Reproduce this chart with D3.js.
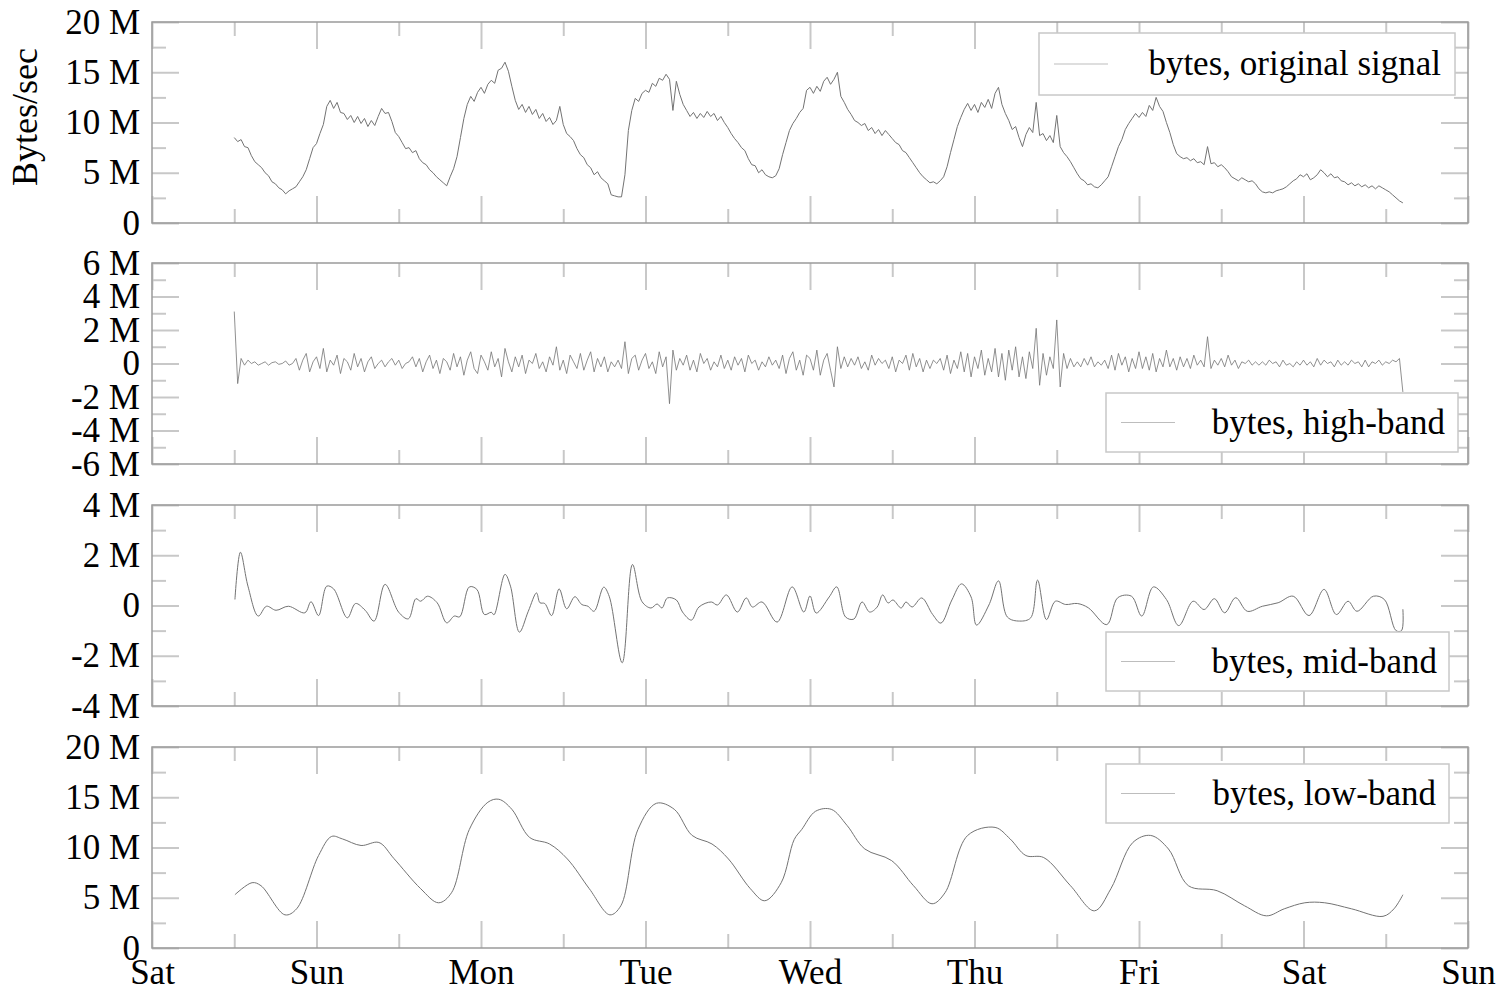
<!DOCTYPE html>
<html>
<head>
<meta charset="utf-8">
<script src="https://cdn.jsdelivr.net/npm/d3@7"></script>
<style>
  body { margin: 0; background: #fff; }
  svg { display: block; }
</style>
</head>
<body>
<div id="chart"></div>
<script>
// Wavelet bands of bytes/sec over one week (Sat -> Sun)

// x axis tick labels, one per day boundary (hours 0, 24, ... 192)
const dayLabels = ["Sat", "Sun", "Mon", "Tue", "Wed", "Thu", "Fri", "Sat", "Sun"];

// noisy series are sampled every half hour, starting at Sat 12:00 (hour 12)
const sampleStart = 12, sampleStep = 0.5;

// original signal, millions of bytes/sec
const originalSignal = [
  8.5, 8.1, 8.3, 7.6, 7.5, 6.7, 6.1, 5.8, 5.5, 5.0, 4.7, 4.1,
  3.9, 3.5, 3.3, 2.9, 3.2, 3.4, 3.6, 4.1, 4.6, 5.3, 6.4, 7.5,
  7.9, 8.9, 9.8, 11.6, 12.2, 11.4, 12.0, 11.0, 10.9, 10.3, 10.7, 10.0,
  10.6, 9.9, 10.4, 9.6, 10.2, 9.7, 10.6, 11.4, 10.9, 11.0, 10.1, 9.0,
  8.6, 8.0, 7.4, 7.5, 7.0, 7.2, 6.4, 6.0, 5.8, 5.3, 5.0, 4.6,
  4.3, 4.0, 3.7, 4.6, 5.4, 6.6, 8.5, 10.4, 11.8, 12.6, 12.1, 13.0,
  13.5, 12.9, 13.8, 14.2, 13.9, 15.2, 15.4, 16.0, 15.1, 13.6, 12.2, 11.3,
  11.8, 11.0, 11.6, 10.8, 11.3, 10.4, 10.9, 10.1, 10.5, 9.8, 10.2, 11.6,
  9.8, 8.9, 8.6, 8.2, 7.4, 6.8, 6.5, 5.8, 5.5, 4.8, 5.1, 4.5,
  4.2, 3.9, 2.8, 2.7, 2.6, 2.6, 4.8, 9.2, 11.2, 12.4, 12.1, 12.9,
  13.2, 13.0, 13.9, 13.6, 14.4, 14.2, 14.8, 14.3, 11.2, 14.1, 12.8, 11.8,
  11.2, 10.6, 11.0, 10.4, 10.9, 10.5, 11.1, 10.6, 10.9, 10.2, 10.6, 10.0,
  9.5, 8.9, 8.4, 8.0, 7.5, 7.2, 6.4, 5.8, 5.7, 5.0, 5.3, 4.8,
  4.6, 4.5, 4.7, 5.4, 6.8, 8.0, 9.2, 9.9, 10.4, 11.0, 11.4, 13.2,
  13.5, 12.9, 13.6, 13.1, 14.1, 14.5, 13.8, 14.3, 15.0, 12.6, 12.0, 11.3,
  10.8, 10.2, 10.0, 9.7, 9.9, 9.2, 9.5, 8.9, 9.3, 8.7, 9.2, 8.8,
  8.4, 8.0, 7.8, 7.2, 7.0, 6.5, 6.0, 5.5, 5.0, 4.6, 4.3, 4.0,
  4.1, 3.9, 4.2, 4.6, 5.6, 7.0, 8.3, 9.6, 10.5, 11.3, 11.9, 11.2,
  11.8, 11.0, 12.0, 11.5, 12.3, 11.4, 12.9, 13.5, 11.8, 10.9, 10.2, 9.3,
  9.6, 8.5, 7.6, 8.8, 9.5, 9.0, 12.0, 8.7, 8.9, 8.2, 8.7, 8.0,
  10.7, 7.6, 7.0, 6.6, 6.1, 5.5, 4.9, 4.4, 4.2, 3.8, 3.9, 3.6,
  3.5, 3.8, 4.2, 4.6, 5.6, 6.6, 7.6, 8.3, 9.3, 9.9, 10.4, 10.9,
  10.5, 11.0, 10.6, 11.7, 11.2, 12.5, 11.6, 11.1, 10.0, 9.0, 7.8, 6.9,
  6.6, 6.4, 6.5, 6.2, 6.4, 6.0, 6.1, 5.8, 7.6, 5.9, 6.0, 5.6,
  5.8, 5.5, 5.1, 4.6, 4.4, 4.2, 4.5, 4.3, 4.1, 4.2, 3.9, 3.4,
  3.1, 3.0, 3.1, 3.0, 3.2, 3.3, 3.4, 3.6, 3.9, 4.2, 4.4, 4.8,
  4.6, 4.9, 4.3, 4.5, 4.8, 5.3, 5.0, 4.6, 4.9, 4.5, 4.6, 4.2,
  4.1, 3.8, 4.0, 3.7, 3.9, 3.6, 3.8, 3.5, 3.7, 3.4, 3.7, 3.5,
  3.3, 3.1, 2.8, 2.5, 2.2, 2.0
];

// high-band component, millions of bytes/sec
const highBand = [
  3.1, -1.2, 0.3, -0.1, 0.2, 0.0, 0.1, -0.1, 0.0, 0.1, -0.1, 0.05,
  0.1, -0.05, 0.0, 0.15, -0.1, 0.0, 0.3, -0.4, 0.2, 0.6, -0.5, 0.1,
  0.4, -0.3, 0.9, -0.5, 0.2, -0.1, 0.5, -0.6, 0.3, 0.1, -0.4, 0.6,
  -0.2, 0.3, -0.5, 0.1, 0.4, -0.3, 0.0, 0.2, -0.2, 0.1, 0.3, -0.1,
  0.2, -0.3, 0.0, 0.1, 0.4, -0.2, 0.3, -0.5, 0.1, 0.5, -0.3, 0.2,
  -0.6, 0.3, 0.1, -0.4, 0.6, -0.2, 0.4, -0.7, 0.2, 0.7, -0.3, -0.6,
  0.5, 0.1, -0.4, 0.7, -0.2, 0.3, -0.8, 0.9, 0.1, -0.5, 0.4, -0.2,
  0.5, -0.6, 0.2, 0.0, 0.6, -0.3, 0.1, -0.5, 0.4, -0.1, 1.0, -0.4,
  0.2, -0.6, 0.5, 0.1, -0.3, 0.6, -0.4, 0.2, 0.7, -0.5, 0.3, -0.2,
  0.4, -0.5, 0.1, -0.2, 0.2, -0.3, 1.3, -0.6, 0.3, 0.5, -0.4, 0.2,
  0.6, -0.3, 0.1, -0.6, 0.7, -0.2, 0.4, -2.4, 0.8, -0.4, 0.3, -0.1,
  0.5, -0.4, 0.2, -0.5, 0.6, 0.0, 0.3, -0.4, 0.1, -0.2, 0.5, -0.3,
  0.2, -0.4, 0.4, -0.1, 0.3, -0.5, 0.5, 0.0, 0.2, -0.4, 0.1, -0.2,
  0.4, -0.1, 0.2, -0.3, 0.5, -0.6, 0.3, 0.7, -0.4, 0.2, -0.7, 0.5,
  0.3, -0.4, 0.8, -0.7, 0.2, 0.6, -0.4, -1.4, 1.0, -0.3, 0.4, -0.2,
  0.3, -0.1, 0.4, -0.3, 0.1, -0.4, 0.5, -0.1, 0.3, 0.0, 0.2, -0.3,
  0.4, -0.5, 0.2, 0.0, 0.5, -0.4, 0.6, -0.2, 0.3, -0.5, 0.2, -0.3,
  0.2, 0.0, 0.3, -0.4, 0.5, -0.6, 0.2, -0.3, 0.7, -0.5, 0.6, -0.8,
  0.4, -0.3, 0.8, -0.7, 0.3, -0.5, 0.9, -0.8, 0.6, -1.0, 0.8, -0.4,
  1.0, -0.8, 0.4, -0.9, 0.7, -0.3, 2.1, -1.3, 0.6, -0.7, 0.4, -0.3,
  2.6, -1.4, 0.6, -0.3, 0.3, -0.2, 0.1, -0.2, 0.3, -0.1, 0.4, -0.2,
  0.1, -0.1, 0.2, -0.3, 0.5, -0.4, 0.6, -0.1, 0.4, -0.5, 0.3, -0.3,
  0.7, -0.3, 0.4, -0.4, 0.6, -0.5, 0.3, -0.2, 0.8, -0.2, 0.3, -0.4,
  0.4, -0.2, 0.3, -0.3, 0.5, -0.1, 0.2, -0.2, 1.6, -0.3, 0.2, -0.1,
  0.3, -0.2, 0.5, -0.1, 0.2, -0.3, 0.1, 0.0, 0.2, -0.1, 0.1, -0.1,
  0.1, -0.1, 0.2, 0.0, 0.1, -0.2, 0.2, -0.1, 0.0, -0.2, 0.1, -0.1,
  0.2, -0.1, 0.1, -0.2, 0.3, -0.1, 0.2, 0.0, 0.1, -0.2, 0.2, -0.1,
  0.1, -0.1, 0.2, 0.0, 0.1, -0.2, 0.2, -0.2, 0.1, 0.0, 0.2, -0.1,
  0.1, 0.0, 0.2, 0.1, 0.3, -1.7
];

// mid-band component: [hour, millions of bytes/sec] at turning points
const midBand = [
  [12.1, 0.24], [12.9, 2.12], [14.0, 0.77], [15.5, -0.42], [16.7, -0.03], [18.1, -0.19],
  [19.9, -0.03], [22.3, -0.29], [23.2, 0.15], [24.3, -0.4], [25.5, 0.77], [26.5, 0.66],
  [28.5, -0.49], [29.7, 0.08], [31.1, -0.19], [32.4, -0.62], [34.0, 0.84], [36.0, -0.27],
  [37.4, -0.53], [38.5, 0.27], [39.2, 0.17], [40.2, 0.37], [41.6, 0.11], [43.0, -0.69],
  [44.1, -0.42], [44.9, -0.45], [46.3, 0.74], [47.4, 0.64], [48.5, -0.36], [49.5, -0.27],
  [49.9, -0.37], [51.5, 1.24], [52.3, 0.77], [53.6, -1.06], [54.9, -0.23], [56.1, 0.5],
  [56.6, 0.11], [57.3, 0.08], [58.3, -0.4], [59.4, 0.66], [60.5, -0.13], [61.7, 0.35],
  [62.7, 0.04], [63.6, -0.03], [64.5, -0.23], [65.9, 0.73], [66.7, 0.37], [68.6, -2.28],
  [70.1, 1.63], [71.5, 0.15], [72.8, -0.1], [73.7, 0.06], [74.4, -0.1], [75.2, 0.3],
  [76.5, 0.22], [77.4, -0.26], [78.7, -0.58], [79.8, -0.06], [81.6, 0.14], [82.5, 0.02],
  [83.8, 0.42], [85.4, -0.26], [86.7, 0.3], [87.6, -0.06], [89.0, 0.14], [91.2, -0.66],
  [93.4, 0.74], [95.1, -0.26], [96.0, 0.38], [96.9, -0.3], [98.8, 0.34], [99.9, 0.74],
  [101.2, -0.46], [102.4, -0.54], [103.6, 0.14], [104.7, -0.26], [105.8, -0.06], [106.6, 0.42],
  [107.4, 0.1], [108.1, 0.22], [109.3, -0.1], [110.0, 0.14], [110.9, -0.06], [112.3, 0.3],
  [113.9, -0.36], [115.1, -0.7], [116.7, 0.22], [118.1, 0.86], [119.5, 0.34], [120.3, -0.78],
  [122.1, 0.02], [123.5, 0.98], [124.8, -0.46], [126.6, -0.62], [128.2, -0.49], [129.2, 1.01],
  [130.5, -0.56], [131.8, 0.17], [133.3, 0.04], [135.0, 0.08], [136.6, -0.09], [139.3, -0.76],
  [140.9, 0.31], [142.9, 0.37], [144.4, -0.42], [146.1, 0.74], [148.0, 0.24], [149.8, -0.8],
  [151.9, 0.17], [153.5, -0.16], [155.0, 0.27], [156.5, -0.29], [158.1, 0.31], [159.8, -0.23],
  [162.0, -0.03], [164.3, 0.11], [166.5, 0.37], [168.8, -0.4], [171.0, 0.64], [172.8, -0.36],
  [174.5, 0.17], [175.8, -0.23], [178.2, 0.37], [179.8, 0.24], [181.5, -1.0], [182.3, -1.0],
  [182.5, -0.15]
];

// low-band component: [hour, millions of bytes/sec]
const lowBand = [
  [12.1, 5.3], [14.6, 6.5], [15.9, 6.2], [19.4, 3.3], [21.1, 3.9], [24.3, 9.2],
  [26.2, 11.1], [27.8, 10.85], [30.5, 10.2], [33.1, 10.5], [35.3, 8.9], [39.2, 5.9],
  [41.8, 4.5], [43.7, 5.5], [46.3, 11.8], [49.0, 14.5], [50.6, 14.8], [52.5, 13.8],
  [55.1, 11.0], [58.0, 10.35], [60.6, 8.86], [63.8, 5.9], [66.8, 3.3], [68.4, 4.2],
  [70.9, 11.8], [73.6, 14.4], [76.2, 13.8], [78.8, 11.2], [81.7, 10.35], [84.1, 8.86],
  [87.3, 5.9], [89.4, 4.7], [91.8, 6.5], [93.7, 10.8], [94.8, 11.8], [96.8, 13.6],
  [99.1, 13.8], [101.4, 12.2], [104.0, 9.85], [107.9, 8.7], [111.1, 6.2], [113.8, 4.4],
  [115.7, 5.5], [119.0, 11.2], [123.0, 12.0], [125.2, 10.85], [127.5, 9.2], [130.1, 9.0],
  [134.0, 6.2], [137.5, 3.7], [139.9, 5.9], [143.1, 10.5], [145.7, 11.2], [148.3, 9.85],
  [151.2, 6.2], [155.4, 5.7], [159.4, 4.2], [162.6, 3.2], [165.2, 3.9], [168.2, 4.5],
  [171.1, 4.5], [175.0, 3.9], [179.6, 3.15], [181.2, 3.9], [182.5, 5.3]
];

// layout
const width = 1503,
    height = 993,
    plotLeft = 152,
    plotRight = 1468,
    panelHeight = 201,
    majorTick = 27,
    minorTick = 14;

const fontFamily = "'Liberation Serif', 'Times New Roman', serif";

// panel table built from the series above
const panels = [
  { top: 22, min: 0, max: 20, step: 5, legend: "bytes, original signal",
    data: originalSignal.map((v, i) => [sampleStart + i * sampleStep, v]), curve: d3.curveLinear, sw: 1,
    box: { x: 1039, y: 11, w: 416, h: 62 }, textRight: 1441 },
  { top: 263, min: -6, max: 6, step: 2, legend: "bytes, high-band",
    data: highBand.map((v, i) => [sampleStart + i * sampleStep, v]), curve: d3.curveLinear, sw: 0.8,
    box: { x: 1106, y: 130, w: 352, h: 59 }, textRight: 1445 },
  { top: 505, min: -4, max: 4, step: 2, legend: "bytes, mid-band",
    data: midBand, curve: d3.curveCatmullRom, sw: 1,
    box: { x: 1106, y: 127, w: 343, h: 59 }, textRight: 1437 },
  { top: 747, min: 0, max: 20, step: 5, legend: "bytes, low-band",
    data: lowBand, curve: d3.curveCatmullRom, sw: 1,
    box: { x: 1106, y: 17, w: 343, h: 59 }, textRight: 1436 }
];

const svg = d3.select("#chart")
  .append("svg")
  .attr("width", width)
  .attr("height", height)
  .attr("viewBox", [0, 0, width, height]);

// x scale in hours since Saturday 00:00
const x = d3.scaleLinear()
  .domain([0, 192])
  .range([plotLeft, plotRight]);

const dayTicks = d3.range(0, 193, 24);
const halfDayTicks = d3.range(12, 192, 24);

const fmtM = v => v === 0 ? "0" : v + " M";

// style an axis group: light ticks, no domain line, serif labels
function styleAxis(g) {
  g.select(".domain").remove();
  g.selectAll(".tick line").attr("stroke", "#c8c8c8").attr("stroke-width", 2);
  g.selectAll(".tick text")
    .attr("fill", "#000")
    .style("font-family", fontFamily)
    .style("font-size", "35px");
}

panels.forEach((p, idx) => {
  const g = svg.append("g").attr("transform", `translate(0,${p.top})`);

  const y = d3.scaleLinear()
    .domain([p.min, p.max])
    .range([panelHeight, 0]);

  const majorY = d3.range(p.min, p.max + 0.001, p.step);
  const minorY = d3.range(p.min + p.step / 2, p.max, p.step);

  // left ticks with labels
  g.append("g")
    .attr("transform", `translate(${plotLeft},0)`)
    .call(d3.axisLeft(y).tickValues(minorY).tickSize(-minorTick).tickFormat(""))
    .call(styleAxis);
  g.append("g")
    .attr("transform", `translate(${plotLeft},0)`)
    .call(d3.axisLeft(y).tickValues(majorY).tickSize(-majorTick).tickPadding(12).tickFormat(fmtM))
    .call(styleAxis);

  // right mirrored ticks
  g.append("g")
    .attr("transform", `translate(${plotRight},0)`)
    .call(d3.axisRight(y).tickValues(minorY).tickSize(-minorTick).tickFormat(""))
    .call(styleAxis);
  g.append("g")
    .attr("transform", `translate(${plotRight},0)`)
    .call(d3.axisRight(y).tickValues(majorY).tickSize(-majorTick).tickFormat(""))
    .call(styleAxis);

  // top mirrored ticks
  g.append("g")
    .call(d3.axisTop(x).tickValues(halfDayTicks).tickSize(-minorTick).tickFormat(""))
    .call(styleAxis);
  g.append("g")
    .call(d3.axisTop(x).tickValues(dayTicks).tickSize(-majorTick).tickFormat(""))
    .call(styleAxis);

  // bottom ticks, day labels on the last panel only
  const last = idx === panels.length - 1;
  g.append("g")
    .attr("transform", `translate(0,${panelHeight})`)
    .call(d3.axisBottom(x).tickValues(halfDayTicks).tickSize(-minorTick).tickFormat(""))
    .call(styleAxis);
  g.append("g")
    .attr("transform", `translate(0,${panelHeight})`)
    .call(d3.axisBottom(x).tickValues(dayTicks).tickSize(-majorTick).tickPadding(11)
      .tickFormat((d, i) => last ? dayLabels[i] : ""))
    .call(styleAxis);

  // frame
  g.append("rect")
    .attr("x", plotLeft)
    .attr("y", 0)
    .attr("width", plotRight - plotLeft)
    .attr("height", panelHeight)
    .attr("fill", "none")
    .attr("stroke", "#9a9a9a")
    .attr("stroke-width", 1.5);

  // series line
  const line = d3.line()
    .x(d => x(d[0]))
    .y(d => y(d[1]))
    .curve(p.curve);

  g.append("path")
    .datum(p.data)
    .attr("d", line)
    .attr("fill", "none")
    .attr("stroke", "#737373")
    .attr("stroke-width", p.sw)
    .attr("stroke-linejoin", "round");

  // legend box
  const lg = g.append("g");
  lg.append("rect")
    .attr("x", p.box.x)
    .attr("y", p.box.y)
    .attr("width", p.box.w)
    .attr("height", p.box.h)
    .attr("fill", "#fff")
    .attr("stroke", "#c8c8c8")
    .attr("stroke-width", 1.5);
  lg.append("line")
    .attr("x1", p.box.x + 15)
    .attr("x2", p.box.x + 69)
    .attr("y1", p.box.y + p.box.h / 2)
    .attr("y2", p.box.y + p.box.h / 2)
    .attr("stroke", "#bdbdbd")
    .attr("stroke-width", 1);
  lg.append("text")
    .attr("x", p.textRight)
    .attr("y", p.box.y + p.box.h / 2)
    .attr("dy", "0.32em")
    .attr("text-anchor", "end")
    .style("font-family", fontFamily)
    .style("font-size", "35px")
    .text(p.legend);
});

// y axis title on the first panel
svg.append("text")
  .attr("transform", "rotate(-90)")
  .attr("x", -117)
  .attr("y", 37)
  .attr("text-anchor", "middle")
  .style("font-family", fontFamily)
  .style("font-size", "36px")
  .text("Bytes/sec");
</script>
</body>
</html>
